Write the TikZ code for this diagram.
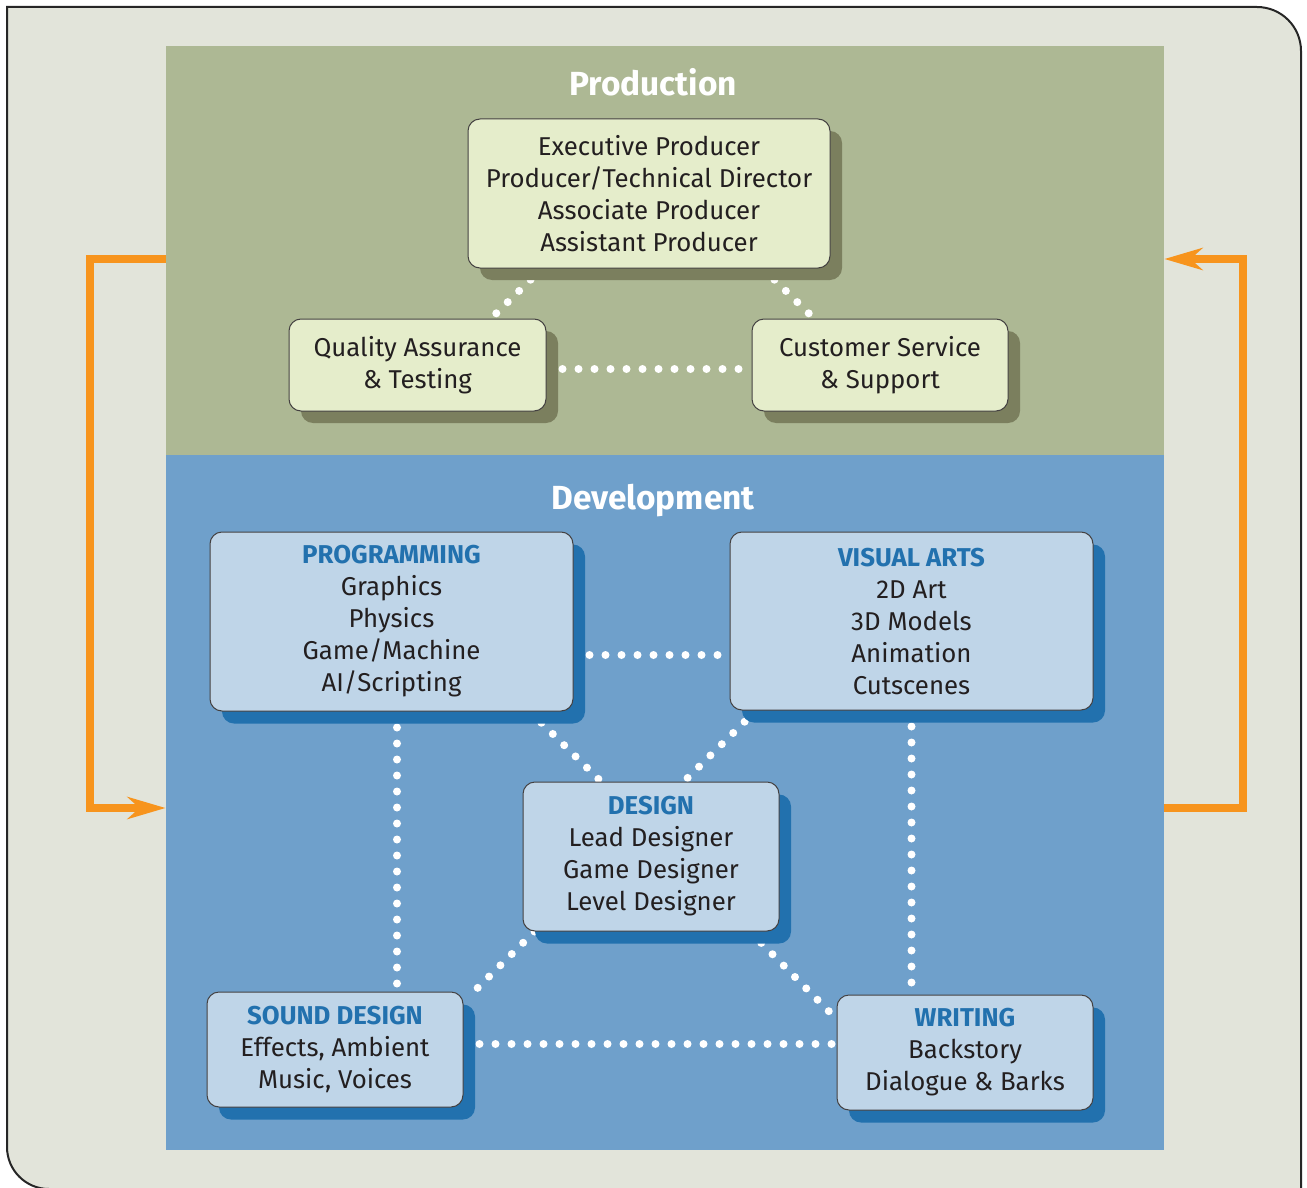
\documentclass[tikz,border=0pt]{standalone}
\usepackage{fontspec}
\setmainfont{Fira Sans}
\usepackage{xcolor}
\usetikzlibrary{arrows.meta,shadows}

\definecolor{pagegray}{HTML}{E2E4DA}
\definecolor{prodgreen}{HTML}{ADB894}
\definecolor{devblue}{HTML}{6FA0CB}
\definecolor{prodfill}{HTML}{E5EDCB}
\definecolor{prodshade}{HTML}{7B7F5E}
\definecolor{devfill}{HTML}{BFD5E8}
\definecolor{devshade}{HTML}{2271AE}
\definecolor{headblue}{HTML}{2271AE}
\definecolor{inkgray}{HTML}{231F20}
\definecolor{looporange}{HTML}{F7941D}

\pgfdeclarelayer{back}
\pgfdeclarelayer{mid}
\pgfsetlayers{back,mid,main}

\tikzset{
  box/.style={draw=inkgray!85,line width=0.5pt,rounded corners=6pt,align=center,
    text=inkgray,inner sep=0pt,font=\fontsize{12.9}{16}\selectfont},
  prodbox/.style={box,fill=prodfill,
    drop shadow={shadow xshift=6pt,shadow yshift=-6pt,fill=prodshade,opacity=1}},
  devbox/.style={box,fill=devfill,
    drop shadow={shadow xshift=6pt,shadow yshift=-6.25pt,fill=devshade,opacity=1}},
  area/.style={draw=none,inner sep=0pt},
  areatitle/.style={text=white,font=\fontsize{16.7}{19}\selectfont\bfseries},
  dots/.style={white,line width=4pt,line cap=round,dash pattern=on 0pt off 8pt},
  loopline/.style={looporange,line width=4pt,-{Stealth[length=19pt,width=11pt,inset=6pt]}}
}
\newcommand{\head}[1]{{\color{headblue}\bfseries #1}\\}

\begin{document}
\begin{tikzpicture}[x=0.5pt,y=-0.5pt]
\useasboundingbox (0,0) rectangle (1307,1188);

\begin{pgfonlayer}{back}
\draw[fill=pagegray,draw=black!85,line width=1pt]
  (1301,1189) -- (1301,51) arc[start angle=0,end angle=90,radius=22pt]
  -- (7,7) -- (7,1147) arc[start angle=180,end angle=270,radius=21pt] -- cycle;
\node[area,fill=prodgreen,minimum width=499pt,minimum height=204.5pt] (prod) at (665,250.5) {};
\node[area,fill=devblue,minimum width=499pt,minimum height=347.5pt] (dev) at (665,802.5) {};
\end{pgfonlayer}

\node[areatitle] (prodtitle) at (653,82) {Production};
\node[areatitle] (devtitle) at (653,501) {Development};

% production staff
\node[prodbox,minimum width=181pt,minimum height=74.5pt] (exec) at (649,193.5)
  {Executive Producer\\Producer/Technical Director\\Associate Producer\\Assistant Producer};
\node[prodbox,minimum width=128.5pt,minimum height=46pt] (qa) at (417.5,365)
  {Quality Assurance\\\& Testing};
\node[prodbox,minimum width=128pt,minimum height=46pt] (cs) at (880,365)
  {Customer Service\\\& Support};

% development teams
\node[devbox,minimum width=181.5pt,minimum height=89.5pt] (prog) at (391.5,621.5)
  {\head{PROGRAMMING}Graphics\\Physics\\Game/Machine\\AI/Scripting};
\node[devbox,minimum width=181.5pt,minimum height=89pt] (vis) at (911.5,621)
  {\head{VISUAL ARTS}2D Art\\3D Models\\Animation\\Cutscenes};
\node[devbox,minimum width=128pt,minimum height=74.5pt] (des) at (651,856.5)
  {\head{DESIGN}Lead Designer\\Game Designer\\Level Designer};
\node[devbox,minimum width=128pt,minimum height=57.5pt] (snd) at (335,1049.5)
  {\head{SOUND DESIGN}Effects, Ambient\\Music, Voices};
\node[devbox,minimum width=128pt,minimum height=57.5pt] (wri) at (965,1052.5)
  {\head{WRITING}Backstory\\Dialogue \& Barks};

\begin{pgfonlayer}{mid}
\draw[dots] ([xshift=-53.5pt]exec.south) -- ([xshift=36.75pt]qa.north);
\draw[dots] ([xshift=57pt]exec.south) -- ([xshift=-33pt]cs.north);
\draw[dots] ([yshift=-2pt]qa.east) -- ([yshift=-2pt]cs.west);
\draw[dots] ([yshift=-16.75pt]prog.east) -- ([yshift=-16.75pt]prog.east -| vis.west);
\draw[dots] ([xshift=69.25pt]prog.south) -- ([xshift=-25pt]des.north);
\draw[dots] ([xshift=-77.75pt]vis.south) -- ([xshift=16.5pt]des.north);
\draw[dots] ([xshift=2.75pt]prog.south) -- ([xshift=2.75pt]prog.south |- snd.north);
\draw[dots] (vis.south) -- (vis.south |- wri.north);
\draw[dots] ([xshift=-58.25pt]des.south) -- ([xshift=69.5pt]snd.north);
\draw[dots] ([xshift=49.5pt]des.south) -- ([yshift=16.75pt]wri.west);
\draw[dots] ([yshift=2.75pt]snd.east) -- ([yshift=2.75pt]snd.east -| wri.west);
\end{pgfonlayer}

% loop between the two areas
\draw[loopline] ([yshift=-4.25pt]prod.west) -- ++(-76,0) |- ([yshift=-2.75pt]dev.west);
\draw[loopline] ([yshift=-2.75pt]dev.east) -- ++(79,0) |- ([yshift=-4.25pt]prod.east);
\end{tikzpicture}
\end{document}
